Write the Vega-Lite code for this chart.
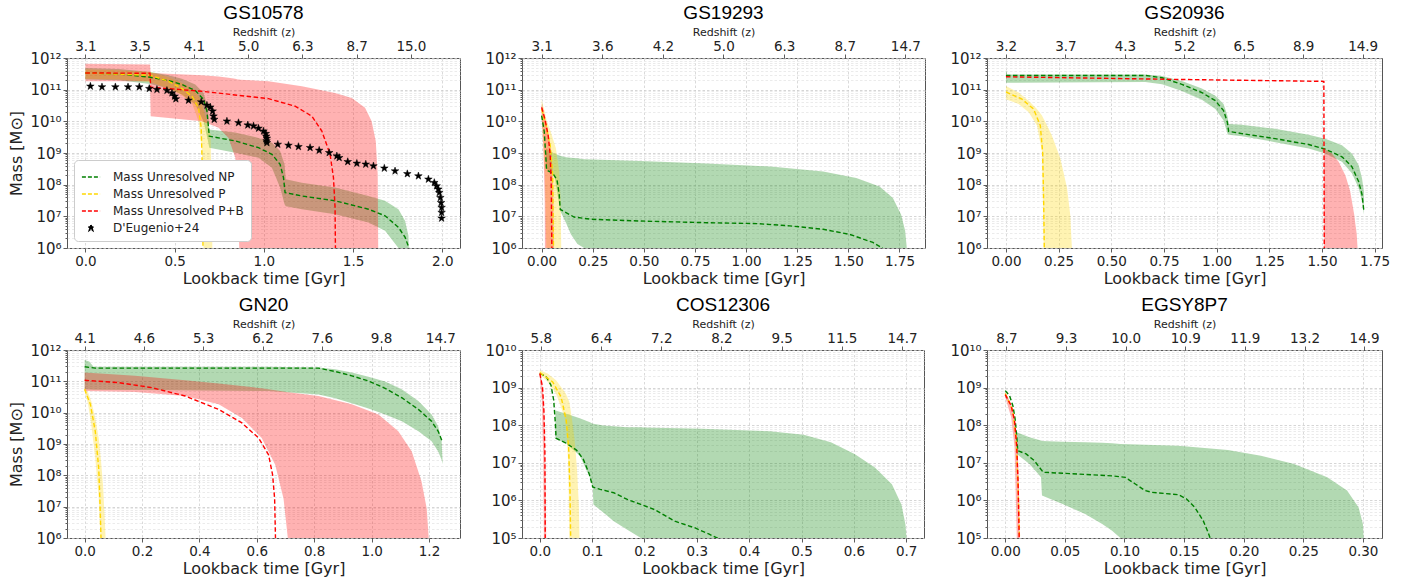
{
"$schema": "https://vega.github.io/schema/vega-lite/v6.json",
"background": "white",
"padding": {"left": 8, "top": 3, "right": 5, "bottom": 5},
"columns": 3,
"align": "none",
"bounds": "flush",
"spacing": {"row": 102, "column": 62},
"resolve": {"scale": {"fill": "independent", "stroke": "independent", "shape": "independent"}},
"config": {
  "font": "DejaVu Sans",
  "view": {"stroke": "#555", "strokeWidth": 1},
  "axis": {"labelFont": "DejaVu Sans", "titleFont": "DejaVu Sans", "labelFontSize": 13.5, "titleFontSize": 16, "labelColor": "#222", "titleColor": "#222", "titleFontWeight": "normal", "domain": false, "tickColor": "#333", "tickSize": 4, "tickWidth": 0.8, "gridColor": "#d0d0d0", "gridDash": [2.5, 2], "gridWidth": 0.8, "labelFlush": false},
  "title": {"font": "Liberation Sans", "fontSize": 19, "fontWeight": "normal", "color": "#000", "offset": 3}
},
"datasets": {
"bands": [
{"p":"A","s":"NP","t":0,"m":4.84e11,"lo":2.08e11},
{"p":"A","s":"NP","t":0.187,"m":4.5e11,"lo":1.98e11},
{"p":"A","s":"NP","t":0.364,"m":3.6e11,"lo":1.52e11},
{"p":"A","s":"NP","t":0.466,"m":2.84e11,"lo":1.08e11},
{"p":"A","s":"NP","t":0.541,"m":2.23e11,"lo":7.0e10},
{"p":"A","s":"NP","t":0.616,"m":1.45e11,"lo":3.4e10},
{"p":"A","s":"NP","t":0.662,"m":7.9e10,"lo":1.01e10},
{"p":"A","s":"NP","t":0.687,"m":2.67e10,"lo":2.4e9},
{"p":"A","s":"NP","t":0.694,"m":5.5e9,"lo":1.47e9},
{"p":"A","s":"NP","t":0.84,"m":4.4e9,"lo":1.02e9},
{"p":"A","s":"NP","t":0.97,"m":3.0e9,"lo":7.1e8},
{"p":"A","s":"NP","t":1.045,"m":2.1e9,"lo":3.4e8},
{"p":"A","s":"NP","t":1.091,"m":1.15e9,"lo":8.1e7},
{"p":"A","s":"NP","t":1.116,"m":4.4e8,"lo":2.4e7},
{"p":"A","s":"NP","t":1.123,"m":1.48e8,"lo":2.1e7},
{"p":"A","s":"NP","t":1.213,"m":1.16e8,"lo":1.68e7},
{"p":"A","s":"NP","t":1.399,"m":8.1e7,"lo":1.17e7},
{"p":"A","s":"NP","t":1.586,"m":4.4e7,"lo":6.4e6},
{"p":"A","s":"NP","t":1.679,"m":3.1e7,"lo":3.5e6},
{"p":"A","s":"NP","t":1.754,"m":1.68e7,"lo":1e6},
{"p":"A","s":"NP","t":1.791,"m":7.2e6,"lo":1e5},
{"p":"A","s":"NP","t":1.81,"m":2.5e6,"lo":1e5},
{"p":"A","s":"NP","t":1.819,"m":1e5,"lo":1e5},
{"p":"A","s":"P","t":0,"m":4.3e11,"lo":2.23e11},
{"p":"A","s":"P","t":0.187,"m":4.1e11,"lo":2.08e11},
{"p":"A","s":"P","t":0.364,"m":3.6e11,"lo":1.75e11},
{"p":"A","s":"P","t":0.466,"m":2.46e11,"lo":1.08e11},
{"p":"A","s":"P","t":0.541,"m":1.63e11,"lo":6.7e10},
{"p":"A","s":"P","t":0.597,"m":1.08e11,"lo":3.8e10},
{"p":"A","s":"P","t":0.634,"m":6.2e10,"lo":1.01e10},
{"p":"A","s":"P","t":0.653,"m":3.8e10,"lo":1.15e9},
{"p":"A","s":"P","t":0.662,"m":2.36e10,"lo":1e6},
{"p":"A","s":"P","t":0.664,"m":2.2e10,"lo":1e5},
{"p":"A","s":"P","t":0.69,"m":6.3e9,"lo":1e5},
{"p":"A","s":"P","t":0.701,"m":3.9e9,"lo":1e5},
{"p":"A","s":"P","t":0.709,"m":3.1e7,"lo":1e5},
{"p":"A","s":"P","t":0.713,"m":1e5,"lo":1e5},
{"p":"A","s":"PB","t":0,"m":6.6e11,"lo":1.84e11},
{"p":"A","s":"PB","t":0.362,"m":6.2e11,"lo":1.84e11},
{"p":"A","s":"PB","t":0.3657,"m":3.37e11,"lo":1.46e10},
{"p":"A","s":"PB","t":0.653,"m":2.84e11,"lo":1.01e10},
{"p":"A","s":"PB","t":0.746,"m":2.6e11,"lo":6.3e9},
{"p":"A","s":"PB","t":0.802,"m":2.4e11,"lo":3.0e9},
{"p":"A","s":"PB","t":0.84,"m":2.2e11,"lo":7.1e8},
{"p":"A","s":"PB","t":0.854,"m":2.1e11,"lo":3.1e7},
{"p":"A","s":"PB","t":0.862,"m":2.1e11,"lo":1e6},
{"p":"A","s":"PB","t":0.868,"m":2.05e11,"lo":1e5},
{"p":"A","s":"PB","t":1.026,"m":1.84e11,"lo":1e5},
{"p":"A","s":"PB","t":1.213,"m":1.28e11,"lo":1e5},
{"p":"A","s":"PB","t":1.399,"m":7.9e10,"lo":1e5},
{"p":"A","s":"PB","t":1.493,"m":5.5e10,"lo":1e5},
{"p":"A","s":"PB","t":1.567,"m":2.67e10,"lo":1e5},
{"p":"A","s":"PB","t":1.604,"m":1.01e10,"lo":1e5},
{"p":"A","s":"PB","t":1.627,"m":2.4e9,"lo":1e5},
{"p":"A","s":"PB","t":1.638,"m":2.1e8,"lo":1e5},
{"p":"A","s":"PB","t":1.642,"m":1e5,"lo":1e5},

{"p":"B","s":"NP","t":0.021,"m":1.38e9,"lo":3.3e8},
{"p":"B","s":"NP","t":0.062,"m":9.7e8,"lo":2.0e8},
{"p":"B","s":"NP","t":0.091,"m":8.2e8,"lo":1.47e7},
{"p":"B","s":"NP","t":0.119,"m":7.4e8,"lo":6.3e6},
{"p":"B","s":"NP","t":0.143,"m":7.1e8,"lo":2.7e6},
{"p":"B","s":"NP","t":0.175,"m":6.8e8,"lo":1.34e6},
{"p":"B","s":"NP","t":0.208,"m":6.4e8,"lo":1e6},
{"p":"B","s":"NP","t":0.216,"m":6.3e8,"lo":1e5},
{"p":"B","s":"NP","t":0.484,"m":5.6e8,"lo":1e5},
{"p":"B","s":"NP","t":0.808,"m":4.7e8,"lo":1e5},
{"p":"B","s":"NP","t":1.133,"m":3.7e8,"lo":1e5},
{"p":"B","s":"NP","t":1.377,"m":2.6e8,"lo":1e5},
{"p":"B","s":"NP","t":1.539,"m":1.61e8,"lo":1e5},
{"p":"B","s":"NP","t":1.653,"m":8.8e7,"lo":1e5},
{"p":"B","s":"NP","t":1.718,"m":3.8e7,"lo":1e5},
{"p":"B","s":"NP","t":1.758,"m":1.15e7,"lo":1e5},
{"p":"B","s":"NP","t":1.778,"m":3.5e6,"lo":1e5},
{"p":"B","s":"NP","t":1.786,"m":1e6,"lo":1e5},
{"p":"B","s":"NP","t":1.787,"m":1e5,"lo":1e5},
{"p":"B","s":"P","t":0,"m":5.0e10,"lo":1.52e10},
{"p":"B","s":"P","t":0.005,"m":3.5e10,"lo":3.6e9},
{"p":"B","s":"P","t":0.016,"m":1.93e10,"lo":2.0e8},
{"p":"B","s":"P","t":0.023,"m":1.19e10,"lo":1e6},
{"p":"B","s":"P","t":0.026,"m":1.0e10,"lo":1e5},
{"p":"B","s":"P","t":0.045,"m":4.6e9,"lo":1e5},
{"p":"B","s":"P","t":0.07,"m":1.38e9,"lo":1e5},
{"p":"B","s":"P","t":0.086,"m":2.6e8,"lo":1e5},
{"p":"B","s":"P","t":0.093,"m":3.0e7,"lo":1e5},
{"p":"B","s":"P","t":0.096,"m":1e6,"lo":1e5},
{"p":"B","s":"P","t":0.097,"m":1e5,"lo":1e5},
{"p":"B","s":"PB","t":0,"m":3.5e10,"lo":1.52e10},
{"p":"B","s":"PB","t":0.008,"m":2.45e10,"lo":2.2e9},
{"p":"B","s":"PB","t":0.015,"m":1.35e10,"lo":3.0e7},
{"p":"B","s":"PB","t":0.016,"m":1.3e10,"lo":1e6},
{"p":"B","s":"PB","t":0.018,"m":1.2e10,"lo":1e5},
{"p":"B","s":"PB","t":0.032,"m":4.6e9,"lo":1e5},
{"p":"B","s":"PB","t":0.049,"m":8.6e8,"lo":1e5},
{"p":"B","s":"PB","t":0.057,"m":7.8e7,"lo":1e5},
{"p":"B","s":"PB","t":0.06,"m":1e6,"lo":1e5},
{"p":"B","s":"PB","t":0.062,"m":1e5,"lo":1e5},

{"p":"C","s":"NP","t":0,"m":4.3e11,"lo":1.66e11},
{"p":"C","s":"NP","t":0.006,"m":3.0e11,"lo":1.66e11},
{"p":"C","s":"NP","t":0.661,"m":3.0e11,"lo":1.74e11},
{"p":"C","s":"NP","t":0.741,"m":2.68e11,"lo":1.47e11},
{"p":"C","s":"NP","t":0.835,"m":1.87e11,"lo":9.1e10},
{"p":"C","s":"NP","t":0.93,"m":1.08e11,"lo":4.8e10},
{"p":"C","s":"NP","t":0.994,"m":6.4e10,"lo":2.45e10},
{"p":"C","s":"NP","t":1.033,"m":3.5e10,"lo":1.06e10},
{"p":"C","s":"NP","t":1.051,"m":1.52e10,"lo":4.1e9},
{"p":"C","s":"NP","t":1.057,"m":8.3e9,"lo":3.8e9},
{"p":"C","s":"NP","t":1.12,"m":7.8e9,"lo":3.4e9},
{"p":"C","s":"NP","t":1.278,"m":5.8e9,"lo":2.2e9},
{"p":"C","s":"NP","t":1.437,"m":3.8e9,"lo":1.38e9},
{"p":"C","s":"NP","t":1.516,"m":2.84e9,"lo":9.7e8},
{"p":"C","s":"NP","t":1.595,"m":1.76e9,"lo":5.3e8},
{"p":"C","s":"NP","t":1.642,"m":9.7e8,"lo":2.3e8},
{"p":"C","s":"NP","t":1.674,"m":4.2e8,"lo":7.8e7},
{"p":"C","s":"NP","t":1.69,"m":1.61e8,"lo":3.0e7},
{"p":"C","s":"NP","t":1.699,"m":6.2e7,"lo":1.15e7},
{"p":"C","s":"P","t":0,"m":1.31e11,"lo":5.0e10},
{"p":"C","s":"P","t":0.06,"m":8.1e10,"lo":3.5e10},
{"p":"C","s":"P","t":0.108,"m":4.5e10,"lo":1.93e10},
{"p":"C","s":"P","t":0.147,"m":2.45e10,"lo":7.4e9},
{"p":"C","s":"P","t":0.171,"m":1.52e10,"lo":1.09e9},
{"p":"C","s":"P","t":0.179,"m":1.19e10,"lo":1e6},
{"p":"C","s":"P","t":0.182,"m":1.1e10,"lo":1e5},
{"p":"C","s":"P","t":0.218,"m":3.6e9,"lo":1e5},
{"p":"C","s":"P","t":0.258,"m":6.8e8,"lo":1e5},
{"p":"C","s":"P","t":0.29,"m":7.8e7,"lo":1e5},
{"p":"C","s":"P","t":0.305,"m":1.15e7,"lo":1e5},
{"p":"C","s":"P","t":0.313,"m":1e6,"lo":1e5},
{"p":"C","s":"P","t":0.315,"m":1e5,"lo":1e5},
{"p":"C","s":"PB","t":1.509,"m":1.38e9,"lo":1e5},
{"p":"C","s":"PB","t":1.547,"m":9.7e8,"lo":1e5},
{"p":"C","s":"PB","t":1.579,"m":5.3e8,"lo":1e5},
{"p":"C","s":"PB","t":1.611,"m":2.0e8,"lo":1e5},
{"p":"C","s":"PB","t":1.634,"m":6.2e7,"lo":1e5},
{"p":"C","s":"PB","t":1.653,"m":1.15e7,"lo":1e5},
{"p":"C","s":"PB","t":1.665,"m":2.7e6,"lo":1e5},
{"p":"C","s":"PB","t":1.669,"m":1e6,"lo":1e5},
{"p":"C","s":"PB","t":1.671,"m":1e5,"lo":1e5},

{"p":"D","s":"NP","t":0,"m":4.8e11,"lo":5.6e10},
{"p":"D","s":"NP","t":0.016,"m":4.3e11,"lo":5.5e10},
{"p":"D","s":"NP","t":0.031,"m":2.91e11,"lo":5.4e10},
{"p":"D","s":"NP","t":0.292,"m":2.91e11,"lo":5.2e10},
{"p":"D","s":"NP","t":0.641,"m":2.91e11,"lo":4.9e10},
{"p":"D","s":"NP","t":0.815,"m":2.77e11,"lo":3.8e10},
{"p":"D","s":"NP","t":0.873,"m":2.45e11,"lo":2.87e10},
{"p":"D","s":"NP","t":0.931,"m":1.91e11,"lo":1.98e10},
{"p":"D","s":"NP","t":0.989,"m":1.39e11,"lo":1.36e10},
{"p":"D","s":"NP","t":1.047,"m":9.8e10,"lo":8.7e9},
{"p":"D","s":"NP","t":1.105,"m":5.6e10,"lo":5.3e9},
{"p":"D","s":"NP","t":1.163,"m":2.35e10,"lo":2.55e9},
{"p":"D","s":"NP","t":1.209,"m":8.7e9,"lo":1.22e9},
{"p":"D","s":"NP","t":1.232,"m":3.7e9,"lo":5.8e8},
{"p":"D","s":"NP","t":1.244,"m":1.22e9,"lo":3.1e8},
{"p":"D","s":"NP","t":1.248,"m":2.27e8,"lo":2.27e8},
{"p":"D","s":"P","t":0,"m":6.3e10,"lo":4.9e10},
{"p":"D","s":"P","t":0.012,"m":4.4e10,"lo":1.84e10},
{"p":"D","s":"P","t":0.023,"m":2.35e10,"lo":4.2e9},
{"p":"D","s":"P","t":0.037,"m":6.8e9,"lo":3.5e8},
{"p":"D","s":"P","t":0.049,"m":1.56e9,"lo":1.83e7},
{"p":"D","s":"P","t":0.055,"m":4.5e8,"lo":1e6},
{"p":"D","s":"P","t":0.057,"m":3.0e8,"lo":1e5},
{"p":"D","s":"P","t":0.064,"m":4.9e7,"lo":1e5},
{"p":"D","s":"P","t":0.07,"m":4.2e6,"lo":1e5},
{"p":"D","s":"P","t":0.073,"m":1e6,"lo":1e5},
{"p":"D","s":"P","t":0.074,"m":1e5,"lo":1e5},
{"p":"D","s":"PB","t":0,"m":1.91e11,"lo":4.9e10},
{"p":"D","s":"PB","t":0.176,"m":1.5e11,"lo":4.6e10},
{"p":"D","s":"PB","t":0.35,"m":1.08e11,"lo":3.4e10},
{"p":"D","s":"PB","t":0.467,"m":8.5e10,"lo":1.84e10},
{"p":"D","s":"PB","t":0.548,"m":7.1e10,"lo":6.8e9},
{"p":"D","s":"PB","t":0.617,"m":6.0e10,"lo":1.56e9},
{"p":"D","s":"PB","t":0.664,"m":5.2e10,"lo":2.16e8},
{"p":"D","s":"PB","t":0.693,"m":4.7e10,"lo":1.83e7},
{"p":"D","s":"PB","t":0.708,"m":4.5e10,"lo":1e6},
{"p":"D","s":"PB","t":0.71,"m":4.5e10,"lo":1e5},
{"p":"D","s":"PB","t":0.815,"m":3.4e10,"lo":1e5},
{"p":"D","s":"PB","t":0.931,"m":1.84e10,"lo":1e5},
{"p":"D","s":"PB","t":1.024,"m":8.7e9,"lo":1e5},
{"p":"D","s":"PB","t":1.093,"m":2.55e9,"lo":1e5},
{"p":"D","s":"PB","t":1.14,"m":5.8e8,"lo":1e5},
{"p":"D","s":"PB","t":1.174,"m":6.3e7,"lo":1e5},
{"p":"D","s":"PB","t":1.192,"m":8.7e6,"lo":1e5},
{"p":"D","s":"PB","t":1.199,"m":1e6,"lo":1e5},
{"p":"D","s":"PB","t":1.2,"m":1e5,"lo":1e5},

{"p":"E","s":"NP","t":0.0298,"m":2.47e8,"lo":4.5e7},
{"p":"E","s":"NP","t":0.0506,"m":2.01e8,"lo":3.2e7},
{"p":"E","s":"NP","t":0.0765,"m":1.54e8,"lo":1.54e7},
{"p":"E","s":"NP","t":0.0959,"m":1.2e8,"lo":4.0e6},
{"p":"E","s":"NP","t":0.1011,"m":1.09e8,"lo":2.18e6},
{"p":"E","s":"NP","t":0.1024,"m":1.09e8,"lo":7.8e5},
{"p":"E","s":"NP","t":0.1218,"m":9.8e7,"lo":4.7e5},
{"p":"E","s":"NP","t":0.1413,"m":9.4e7,"lo":2.8e5},
{"p":"E","s":"NP","t":0.1672,"m":8.8e7,"lo":1.67e5},
{"p":"E","s":"NP","t":0.1931,"m":8.8e7,"lo":1e5},
{"p":"E","s":"NP","t":0.1996,"m":8.7e7,"lo":1e4},
{"p":"E","s":"NP","t":0.3098,"m":8.0e7,"lo":1e4},
{"p":"E","s":"NP","t":0.4394,"m":6.9e7,"lo":1e4},
{"p":"E","s":"NP","t":0.5042,"m":5.6e7,"lo":1e4},
{"p":"E","s":"NP","t":0.5561,"m":3.5e7,"lo":1e4},
{"p":"E","s":"NP","t":0.6014,"m":1.71e7,"lo":1e4},
{"p":"E","s":"NP","t":0.6403,"m":7.5e6,"lo":1e4},
{"p":"E","s":"NP","t":0.6727,"m":2.7e6,"lo":1e4},
{"p":"E","s":"NP","t":0.6909,"m":7.8e5,"lo":1e4},
{"p":"E","s":"NP","t":0.6986,"m":2.27e5,"lo":1e4},
{"p":"E","s":"NP","t":0.7006,"m":1e5,"lo":1e4},
{"p":"E","s":"NP","t":0.7012,"m":1e4,"lo":1e4},
{"p":"E","s":"P","t":0,"m":2.91e9,"lo":2.28e9},
{"p":"E","s":"P","t":0.0149,"m":2.37e9,"lo":1.42e9},
{"p":"E","s":"P","t":0.0311,"m":1.57e9,"lo":6.9e8},
{"p":"E","s":"P","t":0.0473,"m":7.7e8,"lo":1.64e8},
{"p":"E","s":"P","t":0.0506,"m":6.5e8,"lo":7.2e7},
{"p":"E","s":"P","t":0.0544,"m":4.8e8,"lo":9.2e6},
{"p":"E","s":"P","t":0.0564,"m":4.2e8,"lo":1e5},
{"p":"E","s":"P","t":0.057,"m":3.7e8,"lo":1e4},
{"p":"E","s":"P","t":0.0609,"m":1.64e8,"lo":1e4},
{"p":"E","s":"P","t":0.0667,"m":3.9e7,"lo":1e4},
{"p":"E","s":"P","t":0.0713,"m":6.1e6,"lo":1e4},
{"p":"E","s":"P","t":0.0745,"m":7.8e5,"lo":1e4},
{"p":"E","s":"P","t":0.0758,"m":1e5,"lo":1e4},
{"p":"E","s":"P","t":0.0765,"m":1e4,"lo":1e4},
{"p":"E","s":"PB","t":0,"m":2.63e9,"lo":2.01e9},
{"p":"E","s":"PB","t":0.0039,"m":1.57e9,"lo":4.6e8},
{"p":"E","s":"PB","t":0.0065,"m":6.9e8,"lo":1.39e7},
{"p":"E","s":"PB","t":0.0078,"m":4.0e8,"lo":1e5},
{"p":"E","s":"PB","t":0.0084,"m":2.5e8,"lo":1e4},
{"p":"E","s":"PB","t":0.0091,"m":1.09e8,"lo":1e4},
{"p":"E","s":"PB","t":0.011,"m":4.0e6,"lo":1e4},
{"p":"E","s":"PB","t":0.0123,"m":1e5,"lo":1e4},
{"p":"E","s":"PB","t":0.013,"m":1e4,"lo":1e4},

{"p":"F","s":"NP","t":0.0097,"m":6.5e7,"lo":1.72e7},
{"p":"F","s":"NP","t":0.0203,"m":4.8e7,"lo":9.3e6},
{"p":"F","s":"NP","t":0.03,"m":3.9e7,"lo":4.1e6},
{"p":"F","s":"NP","t":0.0308,"m":3.8e7,"lo":1.34e6},
{"p":"F","s":"NP","t":0.048,"m":3.65e7,"lo":8.0e5},
{"p":"F","s":"NP","t":0.0674,"m":3.5e7,"lo":4.3e5},
{"p":"F","s":"NP","t":0.0813,"m":3.4e7,"lo":2.36e5},
{"p":"F","s":"NP","t":0.0896,"m":3.3e7,"lo":1.57e5},
{"p":"F","s":"NP","t":0.0966,"m":3.16e7,"lo":1e5},
{"p":"F","s":"NP","t":0.0971,"m":3.15e7,"lo":1e4},
{"p":"F","s":"NP","t":0.1452,"m":2.86e7,"lo":1e4},
{"p":"F","s":"NP","t":0.1868,"m":2.19e7,"lo":1e4},
{"p":"F","s":"NP","t":0.2145,"m":1.55e7,"lo":1e4},
{"p":"F","s":"NP","t":0.2423,"m":9.3e6,"lo":1e4},
{"p":"F","s":"NP","t":0.2701,"m":4.1e6,"lo":1e4},
{"p":"F","s":"NP","t":0.2867,"m":1.82e6,"lo":1e4},
{"p":"F","s":"NP","t":0.2964,"m":6.5e5,"lo":1e4},
{"p":"F","s":"NP","t":0.3,"m":2.36e5,"lo":1e4},
{"p":"F","s":"NP","t":0.3006,"m":1e5,"lo":1e4},
{"p":"F","s":"NP","t":0.3009,"m":1e4,"lo":1e4},
{"p":"F","s":"PB","t":0,"m":7.5e8,"lo":5.5e8},
{"p":"F","s":"PB","t":0.005,"m":3.7e8,"lo":1.62e8},
{"p":"F","s":"PB","t":0.0078,"m":1.62e8,"lo":2.58e7},
{"p":"F","s":"PB","t":0.0097,"m":4.8e7,"lo":1e5},
{"p":"F","s":"PB","t":0.01,"m":4.0e7,"lo":1e4},
{"p":"F","s":"PB","t":0.0114,"m":4.1e6,"lo":1e4},
{"p":"F","s":"PB","t":0.0122,"m":1e5,"lo":1e4},
{"p":"F","s":"PB","t":0.0125,"m":1e4,"lo":1e4}
],
"lines": [
{"p":"A","s":"NP","t":0,"m":3.37e11},
{"p":"A","s":"NP","t":0.187,"m":3.13e11},
{"p":"A","s":"NP","t":0.364,"m":2.46e11},
{"p":"A","s":"NP","t":0.466,"m":1.93e11},
{"p":"A","s":"NP","t":0.541,"m":1.45e11},
{"p":"A","s":"NP","t":0.616,"m":9.4e10},
{"p":"A","s":"NP","t":0.662,"m":4.9e10},
{"p":"A","s":"NP","t":0.681,"m":2.1e10},
{"p":"A","s":"NP","t":0.69,"m":6.3e9},
{"p":"A","s":"NP","t":0.694,"m":3.4e9},
{"p":"A","s":"NP","t":0.84,"m":2.4e9},
{"p":"A","s":"NP","t":0.97,"m":1.47e9},
{"p":"A","s":"NP","t":1.045,"m":9.1e8},
{"p":"A","s":"NP","t":1.091,"m":4.4e8},
{"p":"A","s":"NP","t":1.11,"m":1.67e8},
{"p":"A","s":"NP","t":1.119,"m":5.6e7},
{"p":"A","s":"NP","t":1.213,"m":4.4e7},
{"p":"A","s":"NP","t":1.399,"m":3.1e7},
{"p":"A","s":"NP","t":1.586,"m":1.68e7},
{"p":"A","s":"NP","t":1.679,"m":1.04e7},
{"p":"A","s":"NP","t":1.754,"m":4.5e6},
{"p":"A","s":"NP","t":1.791,"m":2.2e6},
{"p":"A","s":"NP","t":1.813,"m":1e6},
{"p":"A","s":"NP","t":1.819,"m":1e5},
{"p":"A","s":"P","t":0,"m":3.37e11},
{"p":"A","s":"P","t":0.364,"m":2.84e11},
{"p":"A","s":"P","t":0.466,"m":1.84e11},
{"p":"A","s":"P","t":0.541,"m":1.08e11},
{"p":"A","s":"P","t":0.597,"m":6.2e10},
{"p":"A","s":"P","t":0.634,"m":2.67e10},
{"p":"A","s":"P","t":0.649,"m":6.3e9},
{"p":"A","s":"P","t":0.655,"m":3.4e8},
{"p":"A","s":"P","t":0.659,"m":1e6},
{"p":"A","s":"P","t":0.661,"m":1e5},
{"p":"A","s":"PB","t":0,"m":3.37e11},
{"p":"A","s":"PB","t":0.362,"m":3.3e11},
{"p":"A","s":"PB","t":0.366,"m":1.19e11},
{"p":"A","s":"PB","t":0.653,"m":8.9e10},
{"p":"A","s":"PB","t":1.026,"m":5.2e10},
{"p":"A","s":"PB","t":1.175,"m":3.0e10},
{"p":"A","s":"PB","t":1.269,"m":1.46e10},
{"p":"A","s":"PB","t":1.325,"m":4.9e9},
{"p":"A","s":"PB","t":1.371,"m":9.1e8},
{"p":"A","s":"PB","t":1.39,"m":1.67e8},
{"p":"A","s":"PB","t":1.399,"m":1.9e7},
{"p":"A","s":"PB","t":1.401,"m":1e6},
{"p":"A","s":"PB","t":1.403,"m":1e5},

{"p":"B","s":"NP","t":0,"m":1.52e10},
{"p":"B","s":"NP","t":0.013,"m":4.6e9},
{"p":"B","s":"NP","t":0.021,"m":6.8e8},
{"p":"B","s":"NP","t":0.024,"m":2.9e8},
{"p":"B","s":"NP","t":0.054,"m":2.3e8},
{"p":"B","s":"NP","t":0.075,"m":1.43e8},
{"p":"B","s":"NP","t":0.086,"m":4.9e7},
{"p":"B","s":"NP","t":0.091,"m":1.65e7},
{"p":"B","s":"NP","t":0.159,"m":9.5e6},
{"p":"B","s":"NP","t":0.24,"m":8.1e6},
{"p":"B","s":"NP","t":0.484,"m":7.1e6},
{"p":"B","s":"NP","t":0.808,"m":6.3e6},
{"p":"B","s":"NP","t":1.052,"m":5.9e6},
{"p":"B","s":"NP","t":1.214,"m":5.0e6},
{"p":"B","s":"NP","t":1.377,"m":3.9e6},
{"p":"B","s":"NP","t":1.506,"m":2.7e6},
{"p":"B","s":"NP","t":1.62,"m":1.5e6},
{"p":"B","s":"NP","t":1.666,"m":1e6},
{"p":"B","s":"NP","t":1.677,"m":1e5},
{"p":"B","s":"P","t":0,"m":2.45e10},
{"p":"B","s":"P","t":0.021,"m":7.4e9},
{"p":"B","s":"P","t":0.042,"m":1.76e9},
{"p":"B","s":"P","t":0.054,"m":2.0e8},
{"p":"B","s":"P","t":0.058,"m":1e6},
{"p":"B","s":"P","t":0.06,"m":1e5},
{"p":"B","s":"PB","t":0,"m":2.76e10},
{"p":"B","s":"PB","t":0.016,"m":1.19e10},
{"p":"B","s":"PB","t":0.032,"m":3.6e9},
{"p":"B","s":"PB","t":0.042,"m":8.6e8},
{"p":"B","s":"PB","t":0.047,"m":1.0e8},
{"p":"B","s":"PB","t":0.05,"m":1e6},
{"p":"B","s":"PB","t":0.052,"m":1e5},

{"p":"C","s":"NP","t":0,"m":2.81e11},
{"p":"C","s":"NP","t":0.329,"m":2.81e11},
{"p":"C","s":"NP","t":0.661,"m":2.81e11},
{"p":"C","s":"NP","t":0.741,"m":2.38e11},
{"p":"C","s":"NP","t":0.835,"m":1.47e11},
{"p":"C","s":"NP","t":0.93,"m":8.1e10},
{"p":"C","s":"NP","t":0.994,"m":4.5e10},
{"p":"C","s":"NP","t":1.033,"m":2.17e10},
{"p":"C","s":"NP","t":1.051,"m":9.4e9},
{"p":"C","s":"NP","t":1.057,"m":4.8e9},
{"p":"C","s":"NP","t":1.12,"m":4.1e9},
{"p":"C","s":"NP","t":1.278,"m":2.84e9},
{"p":"C","s":"NP","t":1.437,"m":1.85e9},
{"p":"C","s":"NP","t":1.516,"m":1.32e9},
{"p":"C","s":"NP","t":1.595,"m":7.6e8},
{"p":"C","s":"NP","t":1.642,"m":3.7e8},
{"p":"C","s":"NP","t":1.674,"m":1.26e8},
{"p":"C","s":"NP","t":1.69,"m":4.9e7},
{"p":"C","s":"NP","t":1.699,"m":1.47e7},
{"p":"C","s":"P","t":0,"m":8.5e10},
{"p":"C","s":"P","t":0.076,"m":5.0e10},
{"p":"C","s":"P","t":0.131,"m":2.45e10},
{"p":"C","s":"P","t":0.163,"m":7.4e9},
{"p":"C","s":"P","t":0.174,"m":1.09e9},
{"p":"C","s":"P","t":0.179,"m":3.0e7},
{"p":"C","s":"P","t":0.182,"m":1e6},
{"p":"C","s":"P","t":0.184,"m":1e5},
{"p":"C","s":"PB","t":0,"m":2.55e11},
{"p":"C","s":"PB","t":0.804,"m":2.11e11},
{"p":"C","s":"PB","t":1.509,"m":1.83e11},
{"p":"C","s":"PB","t":1.511,"m":1e6},
{"p":"C","s":"PB","t":1.513,"m":1e5},

{"p":"D","s":"NP","t":0,"m":2.91e11},
{"p":"D","s":"NP","t":0.037,"m":2.64e11},
{"p":"D","s":"NP","t":0.408,"m":2.64e11},
{"p":"D","s":"NP","t":0.815,"m":2.64e11},
{"p":"D","s":"NP","t":0.873,"m":2.06e11},
{"p":"D","s":"NP","t":0.931,"m":1.5e11},
{"p":"D","s":"NP","t":0.989,"m":1.03e11},
{"p":"D","s":"NP","t":1.047,"m":6.0e10},
{"p":"D","s":"NP","t":1.105,"m":3.0e10},
{"p":"D","s":"NP","t":1.163,"m":1.27e10},
{"p":"D","s":"NP","t":1.209,"m":5.3e9},
{"p":"D","s":"NP","t":1.232,"m":2.55e9},
{"p":"D","s":"NP","t":1.246,"m":1.22e9},
{"p":"D","s":"P","t":0,"m":5.6e10},
{"p":"D","s":"P","t":0.02,"m":1.84e10},
{"p":"D","s":"P","t":0.037,"m":2.55e9},
{"p":"D","s":"P","t":0.049,"m":1.69e8},
{"p":"D","s":"P","t":0.053,"m":1.83e7},
{"p":"D","s":"P","t":0.057,"m":1e6},
{"p":"D","s":"P","t":0.058,"m":1e5},
{"p":"D","s":"PB","t":0,"m":1.08e11},
{"p":"D","s":"PB","t":0.118,"m":9.1e10},
{"p":"D","s":"PB","t":0.234,"m":6.3e10},
{"p":"D","s":"PB","t":0.35,"m":3.4e10},
{"p":"D","s":"PB","t":0.467,"m":1.27e10},
{"p":"D","s":"PB","t":0.548,"m":4.7e9},
{"p":"D","s":"PB","t":0.606,"m":1.56e9},
{"p":"D","s":"PB","t":0.641,"m":4.5e8},
{"p":"D","s":"PB","t":0.655,"m":1.03e8},
{"p":"D","s":"PB","t":0.662,"m":1.83e7},
{"p":"D","s":"PB","t":0.665,"m":1e6},
{"p":"D","s":"PB","t":0.666,"m":1e5},

{"p":"E","s":"NP","t":0,"m":2.37e9},
{"p":"E","s":"NP","t":0.0117,"m":2.01e9},
{"p":"E","s":"NP","t":0.0214,"m":1.16e9},
{"p":"E","s":"NP","t":0.0266,"m":4.6e8},
{"p":"E","s":"NP","t":0.0298,"m":1.09e8},
{"p":"E","s":"NP","t":0.0311,"m":4.5e7},
{"p":"E","s":"NP","t":0.0506,"m":3.3e7},
{"p":"E","s":"NP","t":0.07,"m":2.18e7},
{"p":"E","s":"NP","t":0.083,"m":1.25e7},
{"p":"E","s":"NP","t":0.0946,"m":5.0e6},
{"p":"E","s":"NP","t":0.1011,"m":2.27e6},
{"p":"E","s":"NP","t":0.1154,"m":1.97e6},
{"p":"E","s":"NP","t":0.1413,"m":1.6e6},
{"p":"E","s":"NP","t":0.1672,"m":1.06e6},
{"p":"E","s":"NP","t":0.1931,"m":7.8e5},
{"p":"E","s":"NP","t":0.2191,"m":5.7e5},
{"p":"E","s":"NP","t":0.2579,"m":2.8e5},
{"p":"E","s":"NP","t":0.2968,"m":1.85e5},
{"p":"E","s":"NP","t":0.3227,"m":1.28e5},
{"p":"E","s":"NP","t":0.339,"m":1e5},
{"p":"E","s":"NP","t":0.3422,"m":1e4},
{"p":"E","s":"P","t":0,"m":2.5e9},
{"p":"E","s":"P","t":0.0246,"m":1.42e9},
{"p":"E","s":"P","t":0.0408,"m":5.6e8},
{"p":"E","s":"P","t":0.0506,"m":1.33e8},
{"p":"E","s":"P","t":0.0551,"m":2.58e7},
{"p":"E","s":"P","t":0.0577,"m":1.78e6},
{"p":"E","s":"P","t":0.059,"m":1e5},
{"p":"E","s":"P","t":0.0596,"m":1e4},
{"p":"E","s":"PB","t":0,"m":2.37e9},
{"p":"E","s":"PB","t":0.0052,"m":1.04e9},
{"p":"E","s":"PB","t":0.0078,"m":2.47e8},
{"p":"E","s":"PB","t":0.0097,"m":2.1e7},
{"p":"E","s":"PB","t":0.0104,"m":1e5},
{"p":"E","s":"PB","t":0.011,"m":1e4},

{"p":"F","s":"NP","t":0,"m":8.3e8},
{"p":"F","s":"NP","t":0.0036,"m":6.1e8},
{"p":"F","s":"NP","t":0.0064,"m":3.3e8},
{"p":"F","s":"NP","t":0.0083,"m":1.46e8},
{"p":"F","s":"NP","t":0.0097,"m":4.8e7},
{"p":"F","s":"NP","t":0.0105,"m":2.1e7},
{"p":"F","s":"NP","t":0.0175,"m":1.72e7},
{"p":"F","s":"NP","t":0.0244,"m":1.14e7},
{"p":"F","s":"NP","t":0.0286,"m":7.6e6},
{"p":"F","s":"NP","t":0.0319,"m":5.6e6},
{"p":"F","s":"NP","t":0.0619,"m":5.0e6},
{"p":"F","s":"NP","t":0.0896,"m":4.5e6},
{"p":"F","s":"NP","t":0.1007,"m":4.1e6},
{"p":"F","s":"NP","t":0.1091,"m":2.73e6},
{"p":"F","s":"NP","t":0.1174,"m":1.82e6},
{"p":"F","s":"NP","t":0.123,"m":1.64e6},
{"p":"F","s":"NP","t":0.1452,"m":1.42e6},
{"p":"F","s":"NP","t":0.1521,"m":1.09e6},
{"p":"F","s":"NP","t":0.159,"m":6.5e5},
{"p":"F","s":"NP","t":0.166,"m":2.9e5},
{"p":"F","s":"NP","t":0.1701,"m":1.42e5},
{"p":"F","s":"NP","t":0.1718,"m":1e5},
{"p":"F","s":"NP","t":0.1724,"m":1e4},
{"p":"F","s":"P","t":0,"m":7.0e8},
{"p":"F","s":"P","t":0.0064,"m":2.4e8},
{"p":"F","s":"P","t":0.0092,"m":3.9e7},
{"p":"F","s":"P","t":0.0108,"m":1.8e6},
{"p":"F","s":"P","t":0.0119,"m":1e5},
{"p":"F","s":"P","t":0.0122,"m":1e4},
{"p":"F","s":"PB","t":0,"m":6.5e8},
{"p":"F","s":"PB","t":0.005,"m":3.3e8},
{"p":"F","s":"PB","t":0.0078,"m":1.32e8},
{"p":"F","s":"PB","t":0.0097,"m":2.58e7},
{"p":"F","s":"PB","t":0.0108,"m":2.73e6},
{"p":"F","s":"PB","t":0.0117,"m":1e5},
{"p":"F","s":"PB","t":0.0119,"m":1e4}
],
"stars": [
{"t":0.028,"m":1.28e11,"label":"D'Eugenio+24"},
{"t":0.093,"m":1.22e11,"label":"D'Eugenio+24"},
{"t":0.168,"m":1.22e11,"label":"D'Eugenio+24"},
{"t":0.239,"m":1.22e11,"label":"D'Eugenio+24"},
{"t":0.302,"m":1.22e11,"label":"D'Eugenio+24"},
{"t":0.358,"m":1.08e11,"label":"D'Eugenio+24"},
{"t":0.401,"m":1.01e11,"label":"D'Eugenio+24"},
{"t":0.457,"m":9.4e10,"label":"D'Eugenio+24"},
{"t":0.485,"m":7.9e10,"label":"D'Eugenio+24"},
{"t":0.5,"m":6.2e10,"label":"D'Eugenio+24"},
{"t":0.507,"m":5.1e10,"label":"D'Eugenio+24"},
{"t":0.578,"m":4.6e10,"label":"D'Eugenio+24"},
{"t":0.649,"m":4.1e10,"label":"D'Eugenio+24"},
{"t":0.681,"m":3.2e10,"label":"D'Eugenio+24"},
{"t":0.7,"m":2.8e10,"label":"D'Eugenio+24"},
{"t":0.713,"m":2.1e10,"label":"D'Eugenio+24"},
{"t":0.718,"m":1.46e10,"label":"D'Eugenio+24"},
{"t":0.722,"m":1.15e10,"label":"D'Eugenio+24"},
{"t":0.793,"m":1.01e10,"label":"D'Eugenio+24"},
{"t":0.858,"m":9.0e9,"label":"D'Eugenio+24"},
{"t":0.91,"m":7.6e9,"label":"D'Eugenio+24"},
{"t":0.942,"m":7.1e9,"label":"D'Eugenio+24"},
{"t":0.97,"m":6.0e9,"label":"D'Eugenio+24"},
{"t":0.998,"m":4.9e9,"label":"D'Eugenio+24"},
{"t":1.011,"m":4.1e9,"label":"D'Eugenio+24"},
{"t":1.013,"m":3.4e9,"label":"D'Eugenio+24"},
{"t":1.017,"m":2.9e9,"label":"D'Eugenio+24"},
{"t":1.015,"m":2.4e9,"label":"D'Eugenio+24"},
{"t":1.017,"m":2.1e9,"label":"D'Eugenio+24"},
{"t":1.078,"m":1.87e9,"label":"D'Eugenio+24"},
{"t":1.138,"m":1.74e9,"label":"D'Eugenio+24"},
{"t":1.194,"m":1.58e9,"label":"D'Eugenio+24"},
{"t":1.259,"m":1.47e9,"label":"D'Eugenio+24"},
{"t":1.31,"m":1.21e9,"label":"D'Eugenio+24"},
{"t":1.366,"m":1.02e9,"label":"D'Eugenio+24"},
{"t":1.409,"m":8.0e8,"label":"D'Eugenio+24"},
{"t":1.422,"m":7.1e8,"label":"D'Eugenio+24"},
{"t":1.47,"m":5.3e8,"label":"D'Eugenio+24"},
{"t":1.521,"m":4.7e8,"label":"D'Eugenio+24"},
{"t":1.571,"m":4.4e8,"label":"D'Eugenio+24"},
{"t":1.614,"m":3.9e8,"label":"D'Eugenio+24"},
{"t":1.675,"m":3.3e8,"label":"D'Eugenio+24"},
{"t":1.735,"m":2.7e8,"label":"D'Eugenio+24"},
{"t":1.804,"m":2.2e8,"label":"D'Eugenio+24"},
{"t":1.866,"m":1.88e8,"label":"D'Eugenio+24"},
{"t":1.922,"m":1.48e8,"label":"D'Eugenio+24"},
{"t":1.955,"m":1.16e8,"label":"D'Eugenio+24"},
{"t":1.968,"m":9.1e7,"label":"D'Eugenio+24"},
{"t":1.978,"m":7.2e7,"label":"D'Eugenio+24"},
{"t":1.983,"m":5.6e7,"label":"D'Eugenio+24"},
{"t":1.989,"m":3.9e7,"label":"D'Eugenio+24"},
{"t":1.993,"m":2.7e7,"label":"D'Eugenio+24"},
{"t":1.996,"m":1.9e7,"label":"D'Eugenio+24"},
{"t":1.996,"m":1.32e7,"label":"D'Eugenio+24"},
{"t":1.996,"m":8.7e6,"label":"D'Eugenio+24"}
]
},
"concat": [
{
  "width": 393, "height": 190,
  "title": {"text": "GS10578"},
  "encoding": {
    "x": {"field": "t", "type": "quantitative", "scale": {"domain": [-0.103, 2.099], "nice": false, "zero": false},
      "axis": {"title": "Lookback time [Gyr]", "values": [0, 0.5, 1, 1.5, 2], "format": ".1f", "grid": true, "titlePadding": 3}},
    "y": {"field": "m", "type": "quantitative", "scale": {"type": "log", "domain": [1e6, 1e12], "nice": false},
      "axis": {"title": "Mass [M⊙]", "titlePadding": 5, "tickCount": 50, "labelOverlap": false, "labelFontSize": 15, "labelPadding": 2,
        "labelExpr": "abs(log(datum.value)/LN10 - round(log(datum.value)/LN10)) < 0.01 ? '10' + ['⁰','¹','²','³','⁴','⁵','⁶','⁷','⁸','⁹','¹⁰','¹¹','¹²'][round(log(datum.value)/LN10)] : ''",
        "grid": true,
        "gridColor": {"condition": {"test": "abs(log(datum.value)/LN10 - round(log(datum.value)/LN10)) < 0.01", "value": "#cccccc"}, "value": "#e6e6e6"},
        "tickSize": {"condition": {"test": "abs(log(datum.value)/LN10 - round(log(datum.value)/LN10)) < 0.01", "value": 4}, "value": 2}}}
  },
  "layer": [
    {"data": {"name": "bands"}, "transform": [{"filter": "datum.p == 'A'"}],
     "mark": {"type": "area", "opacity": 0.3, "clip": true},
     "encoding": {"y2": {"field": "lo"}, "color": {"field": "s", "type": "nominal", "scale": {"domain": ["NP", "P", "PB"], "range": ["#008000", "#FFD700", "#FF0000"]}, "legend": null}}},
    {"data": {"name": "lines"}, "transform": [{"filter": "datum.p == 'A'"}],
     "mark": {"type": "line", "strokeDash": [4.5, 2.5], "strokeWidth": 1.4, "clip": true},
     "encoding": {"x": {"field": "t", "type": "quantitative", "scale": {"domain": [-0.103, 2.099], "nice": false, "zero": false},
        "axis": {"orient": "top", "title": "Redshift (z)", "titleFontSize": 11, "titlePadding": 2, "grid": false, "labelPadding": 1,
          "values": [0, 0.304, 0.608, 0.912, 1.216, 1.52, 1.824],
          "labelExpr": "['3.1','3.5','4.1','5.0','6.3','8.7','15.0'][round(datum.value/0.304)]"}},
       "color": {"field": "s", "type": "nominal", "scale": {"domain": ["NP", "P", "PB"], "range": ["#008000", "#FFD700", "#FF0000"]}, "legend": null}}},
    {"data": {"name": "stars"},
     "mark": {"type": "point", "filled": true, "size": 550, "opacity": 1, "strokeWidth": 0.5},
     "encoding": {"x": {"field": "t", "type": "quantitative", "scale": {"domain": [-0.103, 2.099], "nice": false, "zero": false}, "axis": null},
       "fill": {"field": "label", "type": "nominal",
         "scale": {"domain": ["Mass Unresolved NP", "Mass Unresolved P", "Mass Unresolved P+B", "D'Eugenio+24"], "range": ["#008000", "#FFD700", "#FF0000", "#000000"]},
         "legend": {"title": null, "orient": "bottom-left", "offset": 7, "fillColor": "#ffffff", "strokeColor": "#cccccc", "cornerRadius": 4, "padding": 7, "labelFontSize": 12, "labelColor": "#222", "symbolSize": 330, "symbolStrokeWidth": 1.4, "symbolDash": [4, 2], "rowPadding": 1, "labelOffset": 12}},
       "stroke": {"field": "label", "type": "nominal",
         "scale": {"domain": ["Mass Unresolved NP", "Mass Unresolved P", "Mass Unresolved P+B", "D'Eugenio+24"], "range": ["#008000", "#FFD700", "#FF0000", "#000000"]},
         "legend": {"title": null, "orient": "bottom-left", "offset": 7, "fillColor": "#ffffff", "strokeColor": "#cccccc", "cornerRadius": 4, "padding": 7, "labelFontSize": 12, "labelColor": "#222", "symbolSize": 330, "symbolStrokeWidth": 1.4, "symbolDash": [4, 2], "rowPadding": 1, "labelOffset": 12}},
       "shape": {"field": "label", "type": "nominal",
         "scale": {"domain": ["Mass Unresolved NP", "Mass Unresolved P", "Mass Unresolved P+B", "D'Eugenio+24"], "range": ["stroke", "stroke", "stroke", "M0,-0.34L0.079,-0.108L0.323,-0.105L0.128,0.041L0.2,0.275L0,0.134L-0.2,0.275L-0.128,0.041L-0.323,-0.105L-0.079,-0.108Z"]},
         "legend": {"title": null, "orient": "bottom-left", "offset": 7, "fillColor": "#ffffff", "strokeColor": "#cccccc", "cornerRadius": 4, "padding": 7, "labelFontSize": 12, "labelColor": "#222", "symbolSize": 330, "symbolStrokeWidth": 1.4, "symbolDash": [4, 2], "rowPadding": 1, "labelOffset": 12}}}}
  ],
  "resolve": {"axis": {"x": "independent"}}
},
{
  "width": 403, "height": 190,
  "title": {"text": "GS19293"},
  "encoding": {
    "x": {"field": "t", "type": "quantitative", "scale": {"domain": [-0.096, 1.875], "nice": false, "zero": false},
      "axis": {"title": "Lookback time [Gyr]", "values": [0, 0.25, 0.5, 0.75, 1, 1.25, 1.5, 1.75], "format": ".2f", "grid": true, "titlePadding": 3}},
    "y": {"field": "m", "type": "quantitative", "scale": {"type": "log", "domain": [1e6, 1e12], "nice": false},
      "axis": {"title": null, "tickCount": 50, "labelOverlap": false, "labelFontSize": 15, "labelPadding": 2,
        "labelExpr": "abs(log(datum.value)/LN10 - round(log(datum.value)/LN10)) < 0.01 ? '10' + ['⁰','¹','²','³','⁴','⁵','⁶','⁷','⁸','⁹','¹⁰','¹¹','¹²'][round(log(datum.value)/LN10)] : ''",
        "grid": true,
        "gridColor": {"condition": {"test": "abs(log(datum.value)/LN10 - round(log(datum.value)/LN10)) < 0.01", "value": "#cccccc"}, "value": "#e6e6e6"},
        "tickSize": {"condition": {"test": "abs(log(datum.value)/LN10 - round(log(datum.value)/LN10)) < 0.01", "value": 4}, "value": 2}}}
  },
  "layer": [
    {"data": {"name": "bands"}, "transform": [{"filter": "datum.p == 'B'"}],
     "mark": {"type": "area", "opacity": 0.3, "clip": true},
     "encoding": {"y2": {"field": "lo"}, "color": {"field": "s", "type": "nominal", "scale": {"domain": ["NP", "P", "PB"], "range": ["#008000", "#FFD700", "#FF0000"]}, "legend": null}}},
    {"data": {"name": "lines"}, "transform": [{"filter": "datum.p == 'B'"}],
     "mark": {"type": "line", "strokeDash": [4.5, 2.5], "strokeWidth": 1.4, "clip": true},
     "encoding": {"x": {"field": "t", "type": "quantitative", "scale": {"domain": [-0.096, 1.875], "nice": false, "zero": false},
        "axis": {"orient": "top", "title": "Redshift (z)", "titleFontSize": 11, "titlePadding": 2, "grid": false, "labelPadding": 1,
          "values": [0, 0.2965, 0.593, 0.8895, 1.186, 1.4825, 1.779],
          "labelExpr": "['3.1','3.6','4.2','5.0','6.3','8.7','14.7'][round(datum.value/0.2965)]"}},
       "color": {"field": "s", "type": "nominal", "scale": {"domain": ["NP", "P", "PB"], "range": ["#008000", "#FFD700", "#FF0000"]}, "legend": null}}}
  ],
  "resolve": {"axis": {"x": "independent"}}
},
{
  "width": 395, "height": 190,
  "title": {"text": "GS20936"},
  "encoding": {
    "x": {"field": "t", "type": "quantitative", "scale": {"domain": [-0.09, 1.785], "nice": false, "zero": false},
      "axis": {"title": "Lookback time [Gyr]", "values": [0, 0.25, 0.5, 0.75, 1, 1.25, 1.5, 1.75], "format": ".2f", "grid": true, "titlePadding": 3}},
    "y": {"field": "m", "type": "quantitative", "scale": {"type": "log", "domain": [1e6, 1e12], "nice": false},
      "axis": {"title": null, "tickCount": 50, "labelOverlap": false, "labelFontSize": 15, "labelPadding": 2,
        "labelExpr": "abs(log(datum.value)/LN10 - round(log(datum.value)/LN10)) < 0.01 ? '10' + ['⁰','¹','²','³','⁴','⁵','⁶','⁷','⁸','⁹','¹⁰','¹¹','¹²'][round(log(datum.value)/LN10)] : ''",
        "grid": true,
        "gridColor": {"condition": {"test": "abs(log(datum.value)/LN10 - round(log(datum.value)/LN10)) < 0.01", "value": "#cccccc"}, "value": "#e6e6e6"},
        "tickSize": {"condition": {"test": "abs(log(datum.value)/LN10 - round(log(datum.value)/LN10)) < 0.01", "value": 4}, "value": 2}}}
  },
  "layer": [
    {"data": {"name": "bands"}, "transform": [{"filter": "datum.p == 'C'"}],
     "mark": {"type": "area", "opacity": 0.3, "clip": true},
     "encoding": {"y2": {"field": "lo"}, "color": {"field": "s", "type": "nominal", "scale": {"domain": ["NP", "P", "PB"], "range": ["#008000", "#FFD700", "#FF0000"]}, "legend": null}}},
    {"data": {"name": "lines"}, "transform": [{"filter": "datum.p == 'C'"}],
     "mark": {"type": "line", "strokeDash": [4.5, 2.5], "strokeWidth": 1.4, "clip": true},
     "encoding": {"x": {"field": "t", "type": "quantitative", "scale": {"domain": [-0.09, 1.785], "nice": false, "zero": false},
        "axis": {"orient": "top", "title": "Redshift (z)", "titleFontSize": 11, "titlePadding": 2, "grid": false, "labelPadding": 1,
          "values": [0, 0.2822, 0.5644, 0.8466, 1.1288, 1.411, 1.6932],
          "labelExpr": "['3.2','3.7','4.3','5.2','6.5','8.9','14.9'][round(datum.value/0.2822)]"}},
       "color": {"field": "s", "type": "nominal", "scale": {"domain": ["NP", "P", "PB"], "range": ["#008000", "#FFD700", "#FF0000"]}, "legend": null}}}
  ],
  "resolve": {"axis": {"x": "independent"}}
},
{
  "width": 393, "height": 188,
  "title": {"text": "GN20"},
  "encoding": {
    "x": {"field": "t", "type": "quantitative", "scale": {"domain": [-0.0615, 1.308], "nice": false, "zero": false},
      "axis": {"title": "Lookback time [Gyr]", "values": [0, 0.2, 0.4, 0.6, 0.8, 1.0, 1.2], "format": ".1f", "grid": true, "titlePadding": 3}},
    "y": {"field": "m", "type": "quantitative", "scale": {"type": "log", "domain": [1e6, 1e12], "nice": false},
      "axis": {"title": "Mass [M⊙]", "titlePadding": 5, "tickCount": 50, "labelOverlap": false, "labelFontSize": 15, "labelPadding": 2,
        "labelExpr": "abs(log(datum.value)/LN10 - round(log(datum.value)/LN10)) < 0.01 ? '10' + ['⁰','¹','²','³','⁴','⁵','⁶','⁷','⁸','⁹','¹⁰','¹¹','¹²'][round(log(datum.value)/LN10)] : ''",
        "grid": true,
        "gridColor": {"condition": {"test": "abs(log(datum.value)/LN10 - round(log(datum.value)/LN10)) < 0.01", "value": "#cccccc"}, "value": "#e6e6e6"},
        "tickSize": {"condition": {"test": "abs(log(datum.value)/LN10 - round(log(datum.value)/LN10)) < 0.01", "value": 4}, "value": 2}}}
  },
  "layer": [
    {"data": {"name": "bands"}, "transform": [{"filter": "datum.p == 'D'"}],
     "mark": {"type": "area", "opacity": 0.3, "clip": true},
     "encoding": {"y2": {"field": "lo"}, "color": {"field": "s", "type": "nominal", "scale": {"domain": ["NP", "P", "PB"], "range": ["#008000", "#FFD700", "#FF0000"]}, "legend": null}}},
    {"data": {"name": "lines"}, "transform": [{"filter": "datum.p == 'D'"}],
     "mark": {"type": "line", "strokeDash": [4.5, 2.5], "strokeWidth": 1.4, "clip": true},
     "encoding": {"x": {"field": "t", "type": "quantitative", "scale": {"domain": [-0.0615, 1.308], "nice": false, "zero": false},
        "axis": {"orient": "top", "title": "Redshift (z)", "titleFontSize": 11, "titlePadding": 2, "grid": false, "labelPadding": 1,
          "values": [0, 0.2066, 0.4132, 0.6198, 0.8264, 1.033, 1.2396],
          "labelExpr": "['4.1','4.6','5.3','6.2','7.6','9.8','14.7'][round(datum.value/0.2066)]"}},
       "color": {"field": "s", "type": "nominal", "scale": {"domain": ["NP", "P", "PB"], "range": ["#008000", "#FFD700", "#FF0000"]}, "legend": null}}}
  ],
  "resolve": {"axis": {"x": "independent"}}
},
{
  "width": 402, "height": 188,
  "title": {"text": "COS12306"},
  "encoding": {
    "x": {"field": "t", "type": "quantitative", "scale": {"domain": [-0.034, 0.734], "nice": false, "zero": false},
      "axis": {"title": "Lookback time [Gyr]", "values": [0, 0.1, 0.2, 0.3, 0.4, 0.5, 0.6, 0.7], "format": ".1f", "grid": true, "titlePadding": 3}},
    "y": {"field": "m", "type": "quantitative", "scale": {"type": "log", "domain": [1e5, 1e10], "nice": false},
      "axis": {"title": null, "tickCount": 50, "labelOverlap": false, "labelFontSize": 15, "labelPadding": 2,
        "labelExpr": "abs(log(datum.value)/LN10 - round(log(datum.value)/LN10)) < 0.01 ? '10' + ['⁰','¹','²','³','⁴','⁵','⁶','⁷','⁸','⁹','¹⁰','¹¹','¹²'][round(log(datum.value)/LN10)] : ''",
        "grid": true,
        "gridColor": {"condition": {"test": "abs(log(datum.value)/LN10 - round(log(datum.value)/LN10)) < 0.01", "value": "#cccccc"}, "value": "#e6e6e6"},
        "tickSize": {"condition": {"test": "abs(log(datum.value)/LN10 - round(log(datum.value)/LN10)) < 0.01", "value": 4}, "value": 2}}}
  },
  "layer": [
    {"data": {"name": "bands"}, "transform": [{"filter": "datum.p == 'E'"}],
     "mark": {"type": "area", "opacity": 0.3, "clip": true},
     "encoding": {"y2": {"field": "lo"}, "color": {"field": "s", "type": "nominal", "scale": {"domain": ["NP", "P", "PB"], "range": ["#008000", "#FFD700", "#FF0000"]}, "legend": null}}},
    {"data": {"name": "lines"}, "transform": [{"filter": "datum.p == 'E'"}],
     "mark": {"type": "line", "strokeDash": [4.5, 2.5], "strokeWidth": 1.4, "clip": true},
     "encoding": {"x": {"field": "t", "type": "quantitative", "scale": {"domain": [-0.034, 0.734], "nice": false, "zero": false},
        "axis": {"orient": "top", "title": "Redshift (z)", "titleFontSize": 11, "titlePadding": 2, "grid": false, "labelPadding": 1,
          "values": [0.002, 0.117, 0.232, 0.347, 0.462, 0.577, 0.692],
          "labelExpr": "['5.8','6.4','7.2','8.2','9.5','11.5','14.7'][round((datum.value-0.002)/0.115)]"}},
       "color": {"field": "s", "type": "nominal", "scale": {"domain": ["NP", "P", "PB"], "range": ["#008000", "#FFD700", "#FF0000"]}, "legend": null}}}
  ],
  "resolve": {"axis": {"x": "independent"}}
},
{
  "width": 395, "height": 188,
  "title": {"text": "EGSY8P7"},
  "encoding": {
    "x": {"field": "t", "type": "quantitative", "scale": {"domain": [-0.0153, 0.316], "nice": false, "zero": false},
      "axis": {"title": "Lookback time [Gyr]", "values": [0, 0.05, 0.1, 0.15, 0.2, 0.25, 0.3], "format": ".2f", "grid": true, "titlePadding": 3}},
    "y": {"field": "m", "type": "quantitative", "scale": {"type": "log", "domain": [1e5, 1e10], "nice": false},
      "axis": {"title": null, "tickCount": 50, "labelOverlap": false, "labelFontSize": 15, "labelPadding": 2,
        "labelExpr": "abs(log(datum.value)/LN10 - round(log(datum.value)/LN10)) < 0.01 ? '10' + ['⁰','¹','²','³','⁴','⁵','⁶','⁷','⁸','⁹','¹⁰','¹¹','¹²'][round(log(datum.value)/LN10)] : ''",
        "grid": true,
        "gridColor": {"condition": {"test": "abs(log(datum.value)/LN10 - round(log(datum.value)/LN10)) < 0.01", "value": "#cccccc"}, "value": "#e6e6e6"},
        "tickSize": {"condition": {"test": "abs(log(datum.value)/LN10 - round(log(datum.value)/LN10)) < 0.01", "value": 4}, "value": 2}}}
  },
  "layer": [
    {"data": {"name": "bands"}, "transform": [{"filter": "datum.p == 'F'"}],
     "mark": {"type": "area", "opacity": 0.3, "clip": true},
     "encoding": {"y2": {"field": "lo"}, "color": {"field": "s", "type": "nominal", "scale": {"domain": ["NP", "P", "PB"], "range": ["#008000", "#FFD700", "#FF0000"]}, "legend": null}}},
    {"data": {"name": "lines"}, "transform": [{"filter": "datum.p == 'F'"}],
     "mark": {"type": "line", "strokeDash": [4.5, 2.5], "strokeWidth": 1.4, "clip": true},
     "encoding": {"x": {"field": "t", "type": "quantitative", "scale": {"domain": [-0.0153, 0.316], "nice": false, "zero": false},
        "axis": {"orient": "top", "title": "Redshift (z)", "titleFontSize": 11, "titlePadding": 2, "grid": false, "labelPadding": 1,
          "values": [0.001, 0.051, 0.101, 0.151, 0.201, 0.251, 0.301],
          "labelExpr": "['8.7','9.3','10.0','10.9','11.9','13.2','14.9'][round((datum.value-0.001)/0.05)]"}},
       "color": {"field": "s", "type": "nominal", "scale": {"domain": ["NP", "P", "PB"], "range": ["#008000", "#FFD700", "#FF0000"]}, "legend": null}}}
  ],
  "resolve": {"axis": {"x": "independent"}}
}
]
}
